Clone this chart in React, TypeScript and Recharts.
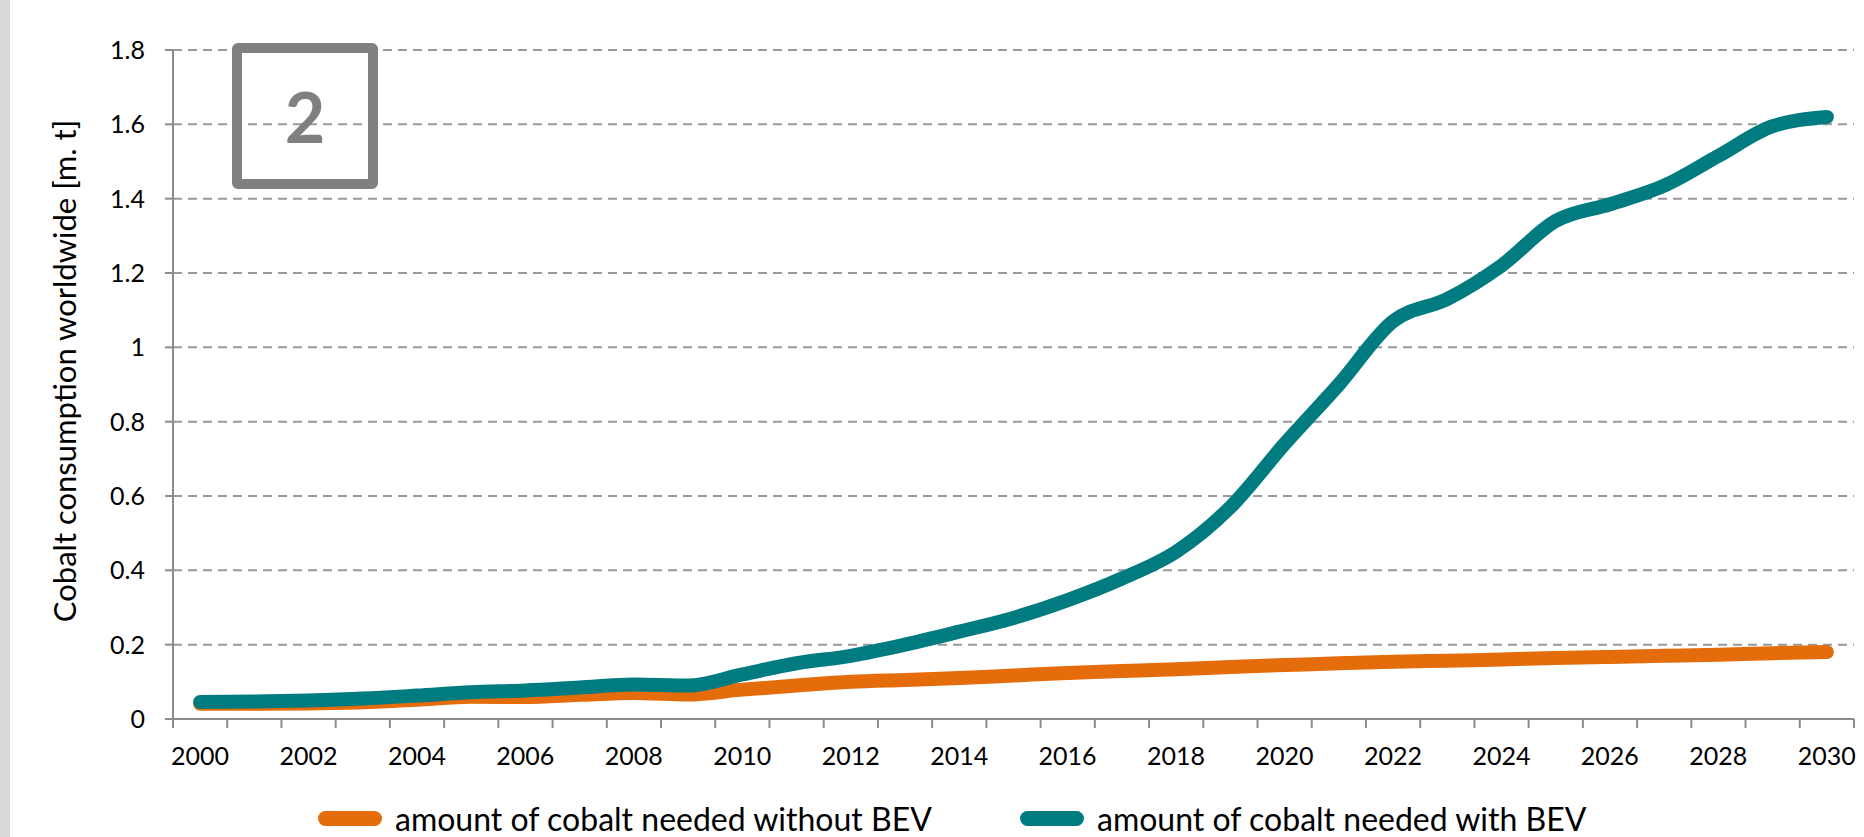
import React from 'react'
import {
  LineChart,
  Line,
  XAxis,
  YAxis,
  CartesianGrid,
  Legend,
} from 'recharts'

// yearly cobalt demand, million tonnes
const years = [
  2000, 2001, 2002, 2003, 2004, 2005, 2006, 2007, 2008, 2009, 2010,
  2011, 2012, 2013, 2014, 2015, 2016, 2017, 2018, 2019, 2020,
  2021, 2022, 2023, 2024, 2025, 2026, 2027, 2028, 2029, 2030,
]
const withoutBev = [
  0.041, 0.041, 0.042, 0.045, 0.052, 0.06, 0.059, 0.065, 0.07, 0.066, 0.079,
  0.09, 0.1, 0.105, 0.11, 0.117, 0.124, 0.129, 0.134, 0.14, 0.145,
  0.15, 0.154, 0.157, 0.16, 0.164, 0.167, 0.17, 0.173, 0.177, 0.18,
]
const withBev = [
  0.046, 0.047, 0.05, 0.055, 0.063, 0.072, 0.077, 0.085, 0.093, 0.09, 0.12,
  0.15, 0.17, 0.2, 0.235, 0.272, 0.32, 0.378, 0.45, 0.57, 0.74,
  0.9, 1.07, 1.13, 1.22, 1.34, 1.385, 1.435, 1.515, 1.595, 1.62,
]
const yTicks = [0, 0.2, 0.4, 0.6, 0.8, 1, 1.2, 1.4, 1.6, 1.8]
const labelYears = [2000, 2002, 2004, 2006, 2008, 2010, 2012, 2014, 2016, 2018, 2020, 2022, 2024, 2026, 2028, 2030]
const seriesOrder = ['without', 'with']

const data = years.map((year, i) => ({
  year,
  without: withoutBev[i],
  with: withBev[i],
}))

// tick marks sit between categories, like the original
const boundaryTicks = [...years.map((y) => y - 0.5), years[years.length - 1] + 0.5]

const FONT = 'Lato, "Open Sans", sans-serif'
const ORANGE = '#E46C0A'
const TEAL = '#007B80'
const AXIS = '#8c8c8c'

const legendLeft = [318, 1020]

function renderLegend(props: any) {
  const items = [...(props.payload || [])].sort(
    (a: any, b: any) => seriesOrder.indexOf(a.dataKey) - seriesOrder.indexOf(b.dataKey)
  )
  return (
    <div style={{ position: 'relative', height: 60, fontFamily: FONT }}>
      {items.map((item: any, i: number) => (
        <div
          key={item.value}
          style={{
            position: 'absolute',
            left: legendLeft[i],
            top: 22,
            display: 'flex',
            alignItems: 'center',
            whiteSpace: 'nowrap',
          }}
        >
          <span
            style={{
              display: 'inline-block',
              width: 64,
              height: 15,
              borderRadius: 8,
              background: item.color,
              marginRight: 13,
            }}
          />
          <span style={{ fontSize: 32, color: '#000' }}>{item.value}</span>
        </div>
      ))}
    </div>
  )
}

function YLabel() {
  return (
    <text
      x={64}
      y={371}
      transform="rotate(-90 64 371)"
      textAnchor="middle"
      dominantBaseline="central"
      fontFamily={FONT}
      fontSize={31}
      fill="#000"
    >
      Cobalt consumption worldwide [m. t]
    </text>
  )
}

export default function App() {
  return (
    <div style={{ position: 'absolute', left: 0, top: 0, width: 1864, height: 837, background: '#fff' }}>
      <div style={{ position: 'absolute', left: 0, top: 0, width: 10, height: 837, background: '#dadada' }} />
      <LineChart
        width={1864}
        height={837}
        data={data}
        margin={{ top: 50, right: 10, left: 0, bottom: 0 }}
      >
        <CartesianGrid
          vertical={false}
          stroke="#999"
          strokeWidth={2}
          strokeDasharray="9 6"
        />
        <XAxis
          dataKey="year"
          type="number"
          domain={[boundaryTicks[0], boundaryTicks[boundaryTicks.length - 1]]}
          ticks={boundaryTicks}
          interval={0}
          height={58}
          tickSize={9}
          tickMargin={19}
          stroke={AXIS}
          strokeWidth={2}
          tickFormatter={(v: number) => (labelYears.includes(v + 0.5) ? String(v + 0.5) : '')}
          tick={{ dx: 27, fill: '#000', fontSize: 25, fontFamily: FONT }}
        />
        <YAxis
          domain={[0, 1.8]}
          ticks={yTicks}
          width={173}
          tickSize={8}
          tickMargin={20}
          stroke={AXIS}
          strokeWidth={2}
          tick={{ fill: '#000', fontSize: 25, fontFamily: FONT }}
          label={<YLabel />}
        />
        <Legend verticalAlign="bottom" height={60} content={renderLegend} />
        <Line
          type="monotone"
          dataKey="without"
          name="amount of cobalt needed without BEV"
          stroke={ORANGE}
          strokeWidth={14}
          strokeLinecap="round"
          dot={false}
          activeDot={false}
          isAnimationActive={false}
        />
        <Line
          type="monotone"
          dataKey="with"
          name="amount of cobalt needed with BEV"
          stroke={TEAL}
          strokeWidth={14}
          strokeLinecap="round"
          dot={false}
          activeDot={false}
          isAnimationActive={false}
        />
      </LineChart>
      <div
        style={{
          position: 'absolute',
          left: 232,
          top: 43,
          width: 146,
          height: 146,
          boxSizing: 'border-box',
          border: '10px solid #808080',
          borderRadius: 6,
          display: 'flex',
          alignItems: 'center',
          justifyContent: 'center',
          fontFamily: FONT,
          fontWeight: 700,
          fontSize: 70,
          color: '#808080',
        }}
      >
        2
      </div>
    </div>
  )
}
